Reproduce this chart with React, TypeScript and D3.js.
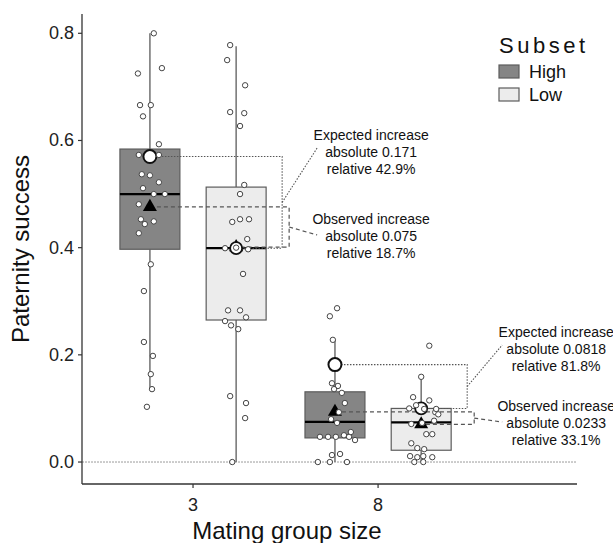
import React from "react";
import * as d3 from "d3";

const groups = ["3", "8"];
const subsets = ["High", "Low"];
const yTicks = [0, 0.2, 0.4, 0.6, 0.8];

// box stats: [whisker low, q1, median, q3, whisker high]
const boxHigh = [
  [0.138, 0.397, 0.5, 0.584, 0.8],
  [0, 0.045, 0.075, 0.131, 0.228],
];
const boxLow = [
  [0, 0.265, 0.399, 0.513, 0.776],
  [0, 0.022, 0.074, 0.1, 0.159],
];

const meanHigh = [0.476, 0.0937];
const meanLow = [0.401, 0.0704];
const expectedHigh = [0.57, 0.1818];
const baseLow = [0.399, 0.1];

const expectedAbs = ["0.171", "0.0818"];
const expectedRel = ["42.9%", "81.8%"];
const observedAbs = ["0.075", "0.0233"];
const observedRel = ["18.7%", "33.1%"];

// jittered points: [value, offset as a fraction of the half box width]
const pts3High = [
  [0.8, 0.13], [0.725, -0.4], [0.735, 0.4], [0.666, -0.33], [0.666, 0.03],
  [0.645, -0.23], [0.593, 0.3], [0.573, -0.37], [0.573, 0.3], [0.537, -0.27],
  [0.535, 0], [0.522, 0.3], [0.511, -0.23], [0.5, 0.13], [0.5, 0.5],
  [0.481, -0.37], [0.453, -0.3], [0.444, -0.17], [0.449, 0.13], [0.427, -0.37],
  [0.369, 0.03], [0.319, -0.2], [0.224, -0.2], [0.198, 0.1], [0.164, 0.03],
  [0.136, 0.07], [0.103, -0.1],
];
const pts3Low = [
  [0.778, -0.2], [0.75, -0.3], [0.703, 0.3], [0.653, -0.2], [0.651, 0.27],
  [0.627, 0.13], [0.517, 0.27], [0.5, 0.13], [0.448, -0.13], [0.453, 0.13],
  [0.453, 0.43], [0.416, 0.37], [0.399, -0.37], [0.397, 0.4], [0.4, 0],
  [0.351, 0.23], [0.283, -0.27], [0.283, 0.13], [0.27, 0.33], [0.263, -0.37],
  [0.255, -0.17], [0.248, 0.07], [0.123, -0.2], [0.11, 0.33], [0.082, 0.3],
  [0, -0.13],
];
const pts8High = [
  [0.287, 0.07], [0.272, -0.17], [0.228, -0.07], [0.147, -0.1], [0.142, 0.1],
  [0.136, -0.03], [0.129, 0.23], [0.11, 0.33], [0.093, 0.13], [0.08, -0.13],
  [0.073, 0.07], [0.047, -0.5], [0.047, -0.23], [0.047, 0.03], [0.05, 0.3],
  [0.047, 0.47], [0.056, 0.53], [0.041, 0.67], [0.013, -0.1], [0.015, 0.17],
  [0, -0.57], [0, -0.17], [0, 0.4],
];
const pts8Low = [
  [0.217, 0.27], [0.159, 0], [0.121, -0.27], [0.115, 0.27], [0.1, -0.4],
  [0.099, 0.1], [0.106, -0.17], [0.093, 0.47], [0.099, 0.5], [0.089, 0.57],
  [0.077, 0.43], [0.073, 0.03], [0.071, -0.33], [0.052, 0.37], [0.052, 0.17],
  [0.035, -0.33], [0.026, -0.13], [0.024, 0.1], [0.011, -0.37], [0.009, -0.13],
  [0.011, 0.07], [0.009, 0.37], [0, -0.23], [0, 0.07],
];

const fills = { High: "#858585", Low: "#ececec" };
const font = "'Liberation Sans', Arial, sans-serif";

export default function App() {
  const width = 613;
  const height = 543;
  const left = 82;
  const right = 577;
  const top = 14;
  const bottom = 484;

  const x = d3.scaleLinear().domain([0.4, 3.075]).range([left, right]);
  const y = d3.scaleLinear().domain([-0.041, 0.836]).range([bottom, top]);

  const dodge = 0.233;
  const halfW = x(0.162) - x(0);
  const center = (g: number, s: number) => x(g + 1 + (s === 0 ? -dodge : dodge));

  const boxes = [boxHigh, boxLow];
  const points = [
    [pts3High, pts3Low],
    [pts8High, pts8Low],
  ];
  const tri = d3.symbol(d3.symbolTriangle, 85)();

  // text block placement for each group: baselines of expected / observed first rows
  const labelTop = [
    [140, 224],
    [337, 411],
  ];

  return (
    <svg
      width={width}
      height={height}
      style={{ position: "absolute", left: 0, top: 0, background: "#fff" }}
      fontFamily={font}
    >
      {/* zero reference line */}
      <line x1={left} x2={right} y1={y(0)} y2={y(0)} stroke="#9a9a9a" strokeWidth={1} strokeDasharray="2,1" />

      {groups.map((g, gi) =>
        subsets.map((s, si) => {
          const [lo, q1, med, q3, hi] = boxes[si][gi];
          const cx = center(gi, si);
          return (
            <g key={g + s}>
              <line x1={cx} x2={cx} y1={y(hi)} y2={y(q3)} stroke="#7a7a7a" strokeWidth={1.6} />
              <line x1={cx} x2={cx} y1={y(q1)} y2={y(lo)} stroke="#7a7a7a" strokeWidth={1.6} />
              <rect
                x={cx - halfW}
                y={y(q3)}
                width={halfW * 2}
                height={y(q1) - y(q3)}
                fill={fills[s]}
                stroke="#5c5c5c"
                strokeWidth={1.2}
              />
              <line x1={cx - halfW} x2={cx + halfW} y1={y(med)} y2={y(med)} stroke="#000" strokeWidth={2.2} />
            </g>
          );
        })
      )}

      {/* brackets and leaders */}
      {groups.map((g, gi) => {
        const hx = center(gi, 0);
        const lx = center(gi, 1);
        const dotX = lx + 46;
        const dashX = lx + 53;
        const tx = lx + 135;
        const [eTop, oTop] = labelTop[gi];
        const eMid = (y(expectedHigh[gi]) + y(baseLow[gi])) / 2;
        const oMid = (y(meanHigh[gi]) + y(meanLow[gi])) / 2;
        return (
          <g key={"br" + g} fill="none" stroke="#555">
            <path
              d={`M${hx},${y(expectedHigh[gi])}H${dotX}V${y(baseLow[gi])}H${lx}`}
              strokeDasharray="1.5,1.5"
              strokeWidth={1.1}
            />
            <path
              d={`M${hx},${y(meanHigh[gi])}H${dashX}V${y(meanLow[gi])}H${lx}`}
              strokeDasharray="4,3"
              strokeWidth={1.2}
            />
            <line x1={dotX} y1={eMid} x2={tx - 54} y2={eTop + 8} strokeDasharray="1.5,1.5" strokeWidth={1.1} />
            <line x1={dashX} y1={oMid} x2={tx - 54} y2={oTop + 11} strokeDasharray="4,3" strokeWidth={1.2} />
          </g>
        );
      })}

      {/* means and expectations */}
      {groups.map((g, gi) => (
        <g key={"m" + g}>
          <path d={tri} transform={`translate(${center(gi, 0)},${y(meanHigh[gi])})`} fill="#000" />
          <path d={tri} transform={`translate(${center(gi, 1)},${y(meanLow[gi])})`} fill="#000" />
          <circle cx={center(gi, 1)} cy={y(baseLow[gi])} r={6} fill="#fff" stroke="#111" strokeWidth={1.8} />
          <circle cx={center(gi, 0)} cy={y(expectedHigh[gi])} r={6.5} fill="#fff" stroke="#111" strokeWidth={2} />
        </g>
      ))}

      {/* raw points */}
      {groups.map((g, gi) =>
        subsets.map((s, si) =>
          points[gi][si].map(([v, j], k) => (
            <circle
              key={g + s + k}
              cx={center(gi, si) + j * halfW}
              cy={y(v)}
              r={2.7}
              fill="#fff"
              stroke="#444"
              strokeWidth={1}
            />
          ))
        )
      )}

      {/* annotation text */}
      {groups.map((g, gi) => {
        const tx = center(gi, 1) + 135;
        const [eTop, oTop] = labelTop[gi];
        const rows = [
          ["Expected increase", `absolute ${expectedAbs[gi]}`, `relative ${expectedRel[gi]}`],
          ["Observed increase", `absolute ${observedAbs[gi]}`, `relative ${observedRel[gi]}`],
        ];
        return (
          <g key={"t" + g} fontSize={14} fill="#111" textAnchor="middle">
            {rows[0].map((t, i) => (
              <text key={"e" + i} x={tx} y={eTop + i * 17}>{t}</text>
            ))}
            {rows[1].map((t, i) => (
              <text key={"o" + i} x={tx} y={oTop + i * 17}>{t}</text>
            ))}
          </g>
        );
      })}

      {/* axes */}
      <line x1={left} x2={left} y1={top} y2={bottom} stroke="#333" strokeWidth={1.3} />
      <line x1={left} x2={right} y1={bottom} y2={bottom} stroke="#333" strokeWidth={1.3} />
      {yTicks.map((t) => (
        <g key={"yt" + t}>
          <line x1={left - 4} x2={left} y1={y(t)} y2={y(t)} stroke="#333" strokeWidth={1.2} />
          <text x={left - 8} y={y(t) + 6} fontSize={18} textAnchor="end" fill="#222">
            {d3.format(".1f")(t)}
          </text>
        </g>
      ))}
      {groups.map((g, gi) => (
        <g key={"xt" + g}>
          <line x1={x(gi + 1)} x2={x(gi + 1)} y1={bottom} y2={bottom + 4} stroke="#333" strokeWidth={1.2} />
          <text x={x(gi + 1)} y={bottom + 27} fontSize={18} textAnchor="middle" fill="#222">
            {g}
          </text>
        </g>
      ))}
      <text x={287} y={539} fontSize={24} textAnchor="middle" fill="#111">
        Mating group size
      </text>
      <text transform={`translate(29,249) rotate(-90)`} fontSize={24} textAnchor="middle" fill="#111">
        Paternity success
      </text>

      {/* legend */}
      <text x={499} y={53} fontSize={22} letterSpacing={3.5} fill="#111">
        Subset
      </text>
      {subsets.map((s, i) => (
        <g key={"lg" + s}>
          <rect x={499} y={65 + i * 23} width={20} height={13} fill={fills[s]} stroke="#5c5c5c" strokeWidth={1.2} />
          <text x={529} y={78 + i * 23} fontSize={18} fill="#111">
            {s}
          </text>
        </g>
      ))}
    </svg>
  );
}
